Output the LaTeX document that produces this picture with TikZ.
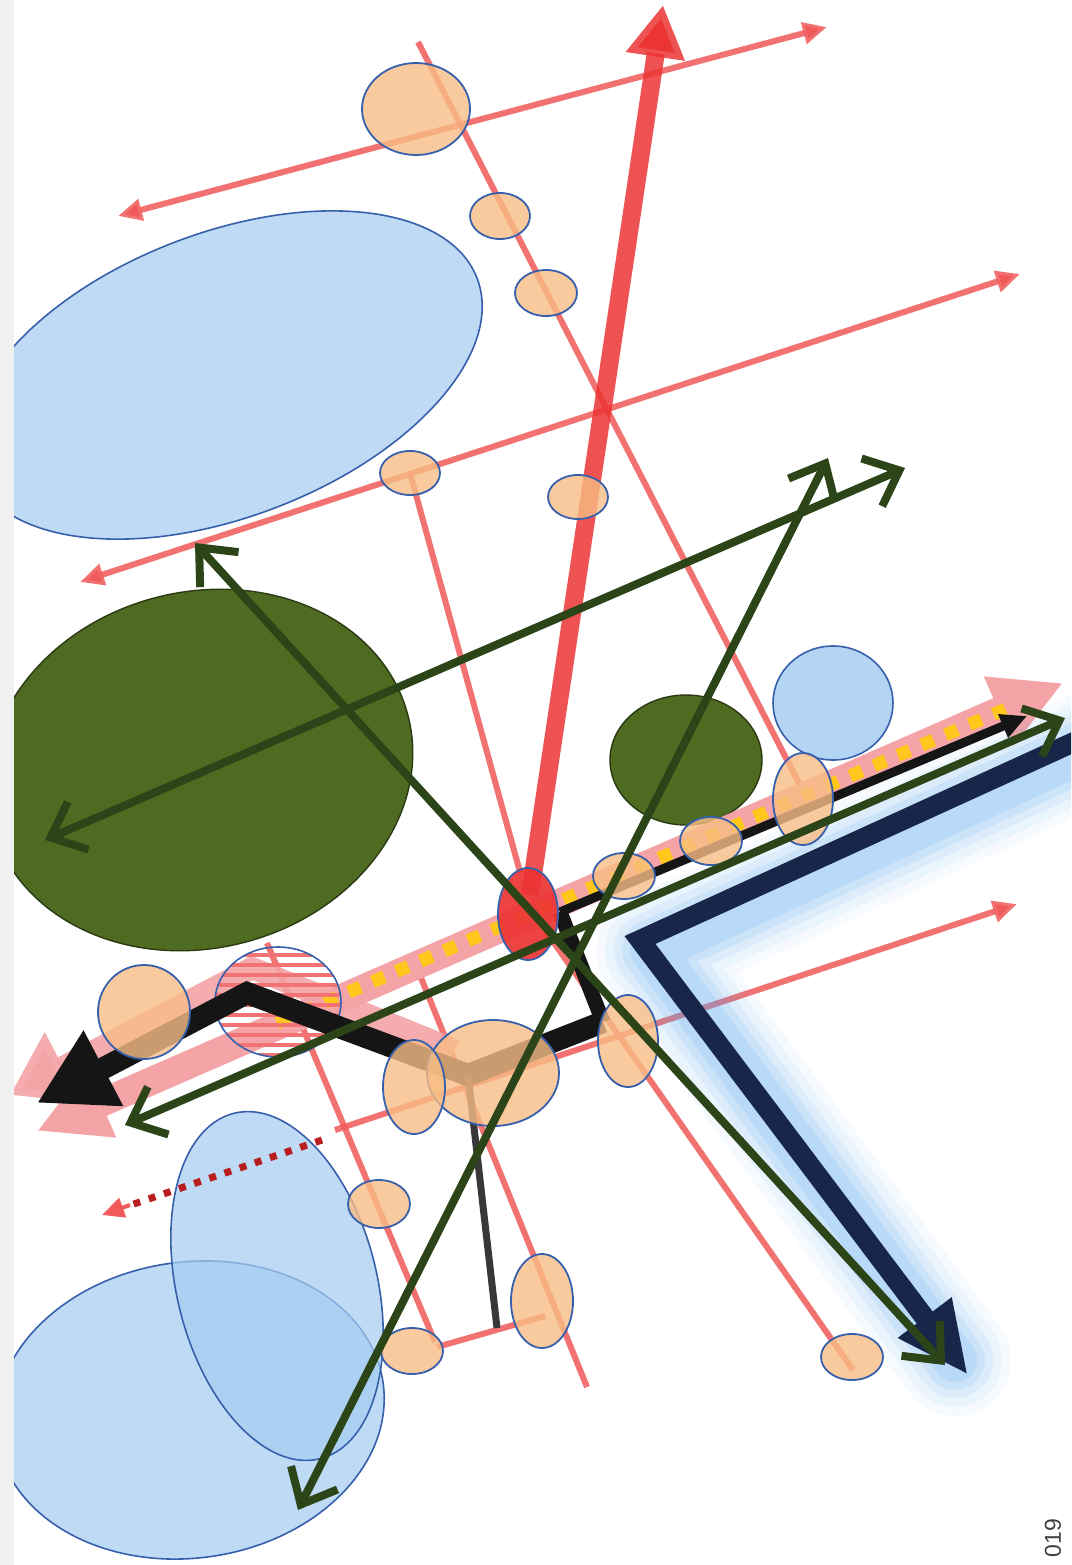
\documentclass[tikz,border=0pt]{standalone}
\usepackage{fontspec}
\setsansfont{Liberation Sans}
\usetikzlibrary{arrows.meta,patterns.meta}
\definecolor{SketchStrip}{HTML}{F1F1F1}
\definecolor{SketchSky}{HTML}{A6CDF1}
\definecolor{SketchEdge}{HTML}{3760AC}
\definecolor{SketchOlive}{HTML}{4E6B21}
\definecolor{SketchOliveEdge}{HTML}{2A3A12}
\definecolor{SketchRed}{HTML}{F05A5A}
\definecolor{SketchScarlet}{HTML}{EC3434}
\definecolor{SketchPink}{HTML}{F4A4A6}
\definecolor{SketchYellow}{HTML}{FFC61C}
\definecolor{SketchPeach}{HTML}{F8BD85}
\definecolor{SketchDot}{HTML}{B81E1E}
\definecolor{SketchNavy}{HTML}{172649}
\definecolor{SketchGlow}{HTML}{58A6F0}
\definecolor{SketchGreen}{HTML}{2C4518}
\definecolor{SketchInk}{HTML}{151515}
\tikzset{
  cloud/.style={draw=SketchEdge,line width=1.6pt,fill=SketchSky,fill opacity=0.72},
  leaf/.style={draw=SketchOliveEdge,line width=1.4pt,fill=SketchOlive},
  blob/.style={draw=SketchEdge,line width=1.8pt,fill=SketchPeach,fill opacity=0.8},
  thinred/.style={SketchRed,line width=6pt,draw opacity=0.85},
  redtip/.style={-{Triangle[length=24pt,width=21pt]}},
  glow/.style={SketchGlow,line join=round,line cap=round},
  greenarrow/.style={SketchGreen,line width=8pt,
    {Straight Barb[length=30pt,width=52pt]}-{Straight Barb[length=30pt,width=52pt]}},
}

\begin{document}
\begin{tikzpicture}[x=1pt,y=-1pt]
  \useasboundingbox (0,0) rectangle (1071,1565);
  \fill[white] (0,0) rectangle (1071,1565);
  \fill[SketchStrip] (0,0) rectangle (14,1565);
  \begin{scope}
    \clip (14,0) rectangle (1071,1565);
    % blue and green ground shapes
    \draw[cloud] (225,375) ellipse [x radius=270,y radius=142,rotate=21];
    \draw[cloud] (190,1410) ellipse [x radius=195,y radius=148,rotate=8];
    \draw[cloud] (277,1286) ellipse [x radius=100,y radius=178,rotate=14];
    \draw[leaf] (200,770) ellipse [x radius=215,y radius=178,rotate=15];
    \draw[leaf] (686,760) ellipse [x radius=76,y radius=65];
    \draw[cloud,fill opacity=0.85] (833,703) ellipse [x radius=60,y radius=57];

    % thin red lines
    \draw[thinred,{Triangle[length=24pt,width=21pt]}-{Triangle[length=24pt,width=21pt]}] (118,216) -- (827,27);
    \draw[thinred,{Triangle[length=24pt,width=21pt]}-{Triangle[length=24pt,width=21pt]}] (80,582) -- (1020,274);
    \draw[thinred] (418,42) -- (805,795);
    \draw[thinred] (410,473) -- (520,872);
    \draw[thinred] (545,930) -- (853,1370);
    \draw[thinred,redtip] (335,1130) -- (1017,904);
    \draw[thinred] (267,943) -- (435,1342);
    \draw[thinred] (413,958) -- (587,1387);
    \draw[thinred] (437,1347) -- (545,1316);
    \draw[SketchDot,line width=7pt,dash pattern=on 7pt off 9pt] (322,1140) -- (128,1206);
    \draw[SketchRed,line width=4pt,-{Triangle[length=22pt,width=20pt]}] (130,1205) -- (102,1215);

    % thick red arrow
    \draw[SketchScarlet,line width=18pt,draw opacity=0.85,-{Triangle[length=52pt,width=56pt]}] (530,895) -- (663,5);

    % pink bands
    \draw[SketchPink,line width=22pt,line join=miter,draw opacity=0.9,-{Triangle[length=60pt,width=75pt]}] (455,1050) -- (252,968) -- (10,1095);
    \draw[SketchPink,line width=28pt,{Triangle[length=70pt,width=70pt]}-{Triangle[length=70pt,width=70pt]}] (37,1131) -- (1063,683);
    \draw[SketchYellow,line width=13pt,dash pattern=on 13pt off 13pt] (277,1023) -- (1015,705);
    \draw[SketchEdge,line width=1.6pt,pattern={Lines[angle=0,distance=10pt,line width=4.5pt]},pattern color=SketchRed!85] (278,1002) ellipse [x radius=63,y radius=55];

    % blue glow and navy arrow
    \foreach \w/\o in {112/0.05, 94/0.07, 76/0.09, 60/0.12, 44/0.16}
      \draw[glow,line width=\w pt,opacity=\o] (1085,750) -- (652,950) -- (955,1360);
    \draw[SketchNavy,line width=20pt,line join=miter,-{Triangle[length=72pt,width=62pt]}] (1085,737) -- (640,940) -- (968,1375);

    % black paths
    \draw[SketchInk,line width=9pt,-{Triangle[length=26pt,width=24pt]}] (560,912) -- (1027,716);
    \draw[SketchInk,line width=15pt] (560,912) -- (603,1022);
    \draw[SketchInk,line width=22pt,line join=miter,-{Triangle[length=75pt,width=80pt]}] (603,1022) -- (468,1075) -- (247,993) -- (37,1103);
    \draw[SketchInk!85,line width=7pt] (468,1075) -- (497,1328);

    % peach ellipses
    \foreach \cx/\cy/\rx/\ry in {416/109/54/46, 500/216/30/23, 546/293/31/23,
        410/473/30/22, 578/497/30/22, 803/799/30/46, 711/841/31/24, 624/876/31/23,
        628/1041/30/46, 493/1073/66/53, 414/1087/31/47, 144/1012/46/47,
        379/1204/31/24, 542/1301/31/47, 412/1351/31/23, 852/1357/31/23}
      \draw[blob] (\cx,\cy) ellipse [x radius=\rx,y radius=\ry];
    \draw[draw=SketchEdge,line width=1.8pt,fill=SketchScarlet,fill opacity=0.92] (528,914) ellipse [x radius=30,y radius=46];

    % green double arrows
    \draw[greenarrow] (195,543) -- (945,1365);
    \draw[greenarrow] (905,468) -- (45,840);
    \draw[greenarrow] (828,458) -- (298,1510);
    \draw[greenarrow] (1065,718) -- (125,1125);
  \end{scope}
  \node[rotate=90,text=black!75,inner sep=1pt,font=\sffamily\fontsize{23}{23}\selectfont] (year) at (1053,1538) {019};
\end{tikzpicture}
\end{document}
